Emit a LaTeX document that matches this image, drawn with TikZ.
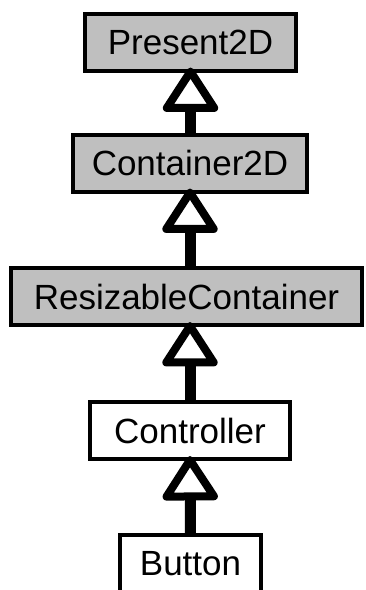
\documentclass[tikz,border=0pt]{standalone}
\usepackage{fontspec}
\setmainfont{Liberation Sans}
\usetikzlibrary{arrows.meta}
\begin{document}
\begin{tikzpicture}[x=1pt,y=-1pt,
  classbox/.style={draw=black, line width=4pt, rectangle, inner sep=0pt,
    minimum height=57pt, font=\fontsize{35}{40}\selectfont, outer sep=0pt},
  abstractbox/.style={classbox, fill=black!25},
  concretebox/.style={classbox, fill=white},
  inherit/.style={line width=11pt,
    -{Triangle[open, fill=white, length=48pt, width=60pt, line width=8pt, round]},
    shorten >=-3pt}
]
\useasboundingbox (0,0) rectangle (366,590);
\clip (0,0) rectangle (366,590);

\node[abstractbox, minimum width=211pt] (present) at (190.5,42) {Present2D};
\node[abstractbox, minimum width=234pt] (container) at (190,163) {Container2D};
\node[abstractbox, minimum width=351pt] (resizable) at (186.5,296.5) {ResizableContainer};
\node[concretebox, minimum width=200pt] (controller) at (190,430.5) {Controller};
\node[concretebox, minimum width=141pt, minimum height=57pt] (button) at (190.5,563.5) {Button};

\draw[inherit] (container.north -| present.south) -- (present.south);
\draw[inherit] (resizable.north -| container.south) -- (container.south);
\draw[inherit] (controller.north) -- (controller.north |- resizable.south);
\draw[inherit] (button.north) -- (controller.south);
\end{tikzpicture}
\end{document}
